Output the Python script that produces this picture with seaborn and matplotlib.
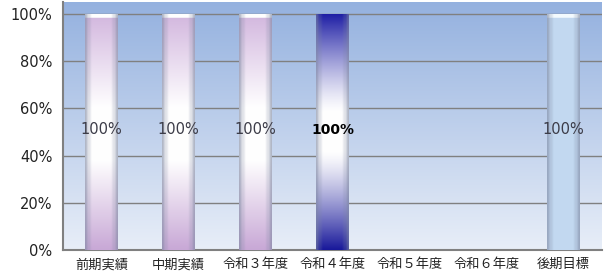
# -*- coding: utf-8 -*-

import numpy as np
import pandas as pd
import matplotlib
matplotlib.use("Agg")
import matplotlib.pyplot as plt
import seaborn as sns

# Data
categories = ["前期実績", "中期実績", "令和３年度", "令和４年度", "令和５年度", "令和６年度", "後期目標"]
values = [1.0, 1.0, 1.0, 1.0, np.nan, np.nan, 1.0]
labels = ["100%", "100%", "100%", "100%", "", "", "100%"]
bar_kind = ["pink", "pink", "pink", "blue", "", "", "light"]

# Style
sns.set_style("white")
plt.rcParams["font.family"] = ["Noto Sans CJK JP", "DejaVu Sans"]

def hex_rgb(h):
	return np.array(matplotlib.colors.to_rgb(h))

def blend(v, top, bot, hi, lo, pw):
	# v: height fraction (1 top, 0 bottom); white between lo and hi
	w_top = np.clip((v - hi) / (1 - hi), 0, 1) ** pw
	w_bot = np.clip((lo - v) / lo, 0, 1) ** pw
	white = hex_rgb("#ffffff")
	col = white * (1 - w_top - w_bot)[:, None] + top * w_top[:, None] + bot * w_bot[:, None]
	return col

def bar_image(kind, n=300, m=48):
	v = np.linspace(1, 0, n)
	if kind == "pink":
		col = blend(v, hex_rgb("#d2b6de"), hex_rgb("#c8a8d6"), 0.6, 0.38, 1.0)
		col[v > 0.982] = hex_rgb("#ffffff")
	elif kind == "blue":
		col = blend(v, hex_rgb("#1c1ca4"), hex_rgb("#18189a"), 0.58, 0.42, 1.3)
	else:
		col = np.tile(hex_rgb("#c3d9f1"), (n, 1))
		col[v > 0.982] = hex_rgb("#f4fbff")
	x = np.linspace(0, 1, m)
	e = 0.6 * np.exp(-(x / 0.09) ** 2) + 0.6 * np.exp(-((1 - x) / 0.09) ** 2)
	e = e + 0.15 * np.exp(-((x - 0.14) / 0.04) ** 2) + 0.15 * np.exp(-((x - 0.86) / 0.04) ** 2)
	e = np.clip(e, 0, 0.7)
	edge = hex_rgb("#7c86a0")
	img = col[:, None, :] * (1 - e)[None, :, None] + edge[None, None, :] * e[None, :, None]
	return np.clip(img, 0, 1)

# Plot
fig = plt.figure(figsize=(6.08, 2.78), dpi=100)
ax = fig.add_axes([0.1036, 0.1007, 0.8864, 0.8923])

df = pd.DataFrame({"cat": categories, "val": values})
sns.barplot(data=df, x="cat", y="val", order=categories, width=0.42, color="white", ax=ax, zorder=3)

# background gradient
bg_top, bg_bot = hex_rgb("#94b1df"), hex_rgb("#e8eef8")
s = np.linspace(0, 1, 256)[:, None, None]
bg = bg_top * (1 - s) + bg_bot * s
ax.imshow(bg, extent=[0, 1, 0, 1], transform=ax.transAxes, aspect="auto", zorder=0)

for p in list(ax.patches):
	h = p.get_height()
	if not np.isfinite(h) or h <= 0:
		continue
	i = int(round(p.get_x() + p.get_width() / 2))
	x0 = p.get_x()
	im = ax.imshow(bar_image(bar_kind[i]), extent=[x0, x0 + p.get_width(), 0, h], aspect="auto", zorder=3)
	im.set_clip_path(p)
	p.set_facecolor("none")
	p.set_edgecolor("none")
	if i == 3:
		ax.text(i, h * 0.51, labels[i], ha="center", va="center", fontsize=10, fontweight="bold",
			color="black", family="DejaVu Sans", zorder=5)
	else:
		ax.text(i, h * 0.51, labels[i], ha="center", va="center", fontsize=10.5, color="#3c3c48",
			family="DejaVu Sans", zorder=5)

ax.set_xlim(-0.5, len(categories) - 0.5)
ax.set_ylim(0, 1.05)
ax.set_yticks([0, 0.2, 0.4, 0.6, 0.8, 1.0])
ax.set_yticklabels(["0%", "20%", "40%", "60%", "80%", "100%"])
ax.set_xticks(range(len(categories)))
ax.set_xticklabels(categories)
ax.set_xticks(np.arange(0.5, len(categories) - 0.5, 1), minor=True)
ax.set_xlabel("")
ax.set_ylabel("")
ax.yaxis.grid(True, color="#808080", linewidth=1)
ax.set_axisbelow(False)
for gl in ax.get_ygridlines():
	gl.set_zorder(1)
for t in ax.get_yticklabels():
	t.set_family("DejaVu Sans")
ax.tick_params(axis="x", which="major", length=0, pad=6, labelsize=9.5, labelcolor="#222222")
ax.tick_params(axis="x", which="minor", length=4, color="#808080", width=1, direction="out")
ax.tick_params(axis="y", which="major", length=4, color="#808080", width=1, labelsize=10.5, labelcolor="#222222")
for side in ["top", "right"]:
	ax.spines[side].set_visible(False)
ax.spines["left"].set_color("#808080")
ax.spines["left"].set_linewidth(1.5)
ax.spines["bottom"].set_color("#808080")
ax.spines["bottom"].set_linewidth(1.5)

plt.savefig("out.png", dpi=100)
plt.close("all")
